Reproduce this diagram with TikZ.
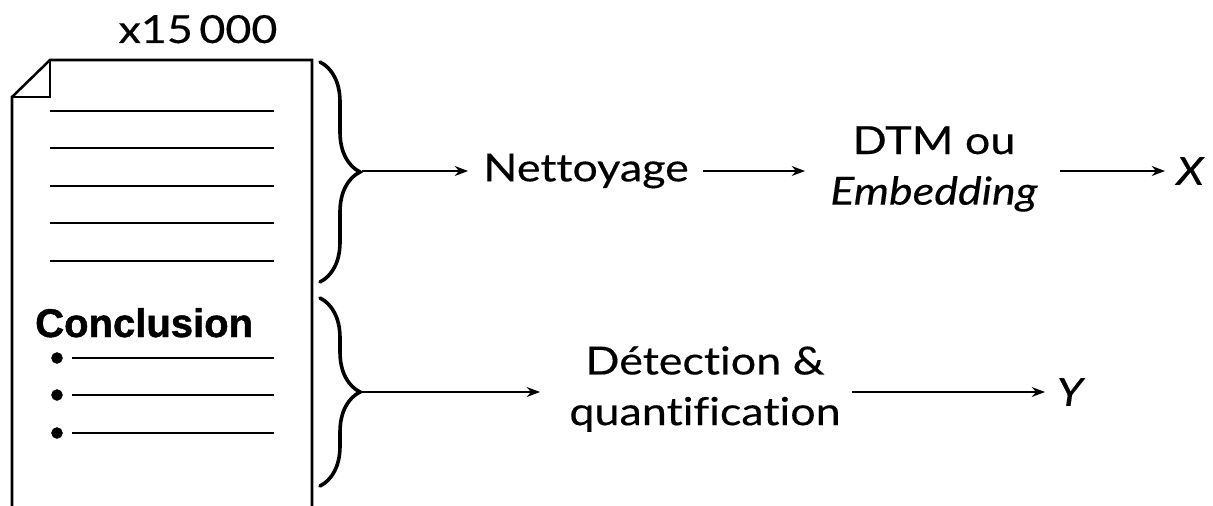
\documentclass[tikz,border=0pt]{standalone}
\usepackage{fontspec}
\setmainfont{Lato}[Ligatures=NoCommon, FakeStretch=1.16, FakeBold=0.35]
\newfontfamily\boldhead{Liberation Sans}[BoldFont={Liberation Sans Bold}, BoldFeatures={FakeBold=1.2}]
\usetikzlibrary{arrows.meta,decorations.pathreplacing}

\tikzset{
  pagebox/.style={line width=1.9pt, line join=miter},
  textline/.style={line width=0.9pt},
  curly/.style={line width=2.7pt, line cap=round,
    decorate, decoration={brace, amplitude=30pt, aspect=0.5}},
  flow/.style={line width=1.1pt, -{Stealth[length=10pt,width=7.5pt]}},
  label/.style={font=\fontsize{29}{38}\selectfont, inner sep=0pt, align=center},
  var/.style={label, font=\itshape\fontsize{29}{38}\selectfont},
  bullet/.style={circle, fill, draw, line width=0.6pt, inner sep=0pt, minimum size=8pt},
}

\begin{document}
\begin{tikzpicture}[x=0.75pt, y=-0.75pt]
  \useasboundingbox (0,0) rectangle (1213,506);

  % page with folded corner, open at the bottom
  \draw[pagebox] (12,506) -- (12,97) -- (50,60) -- (312,60) -- (312,506);
  \draw[pagebox] (50,60) -- (50,97) -- (12,97);

  % body text lines
  \foreach \yy in {111,148,186,223,261}
    \draw[textline] (50,\yy) -- (274,\yy);

  % conclusion section with bullets
  \node[anchor=base west, inner sep=0pt, font=\boldhead\bfseries\fontsize{30}{36}\selectfont]
    (concl) at (35,337) {Conclusion};
  \foreach \yy [count=\k] in {358,395,433} {
    \node[bullet] (dot\k) at (57,\yy) {};
    \draw[textline] (72,\yy) -- (274,\yy);
  }

  % copy count
  \node[label, anchor=base] (count) at (198,43) {x15\,000};

  % braces grouping the two parts of the page
  \draw[curly] (320,62) -- (320,282);
  \draw[curly] (320,298) -- (320,486);
  \coordinate (tip1) at (362,171);
  \coordinate (tip2) at (362,392);

  % upper pipeline
  \node[label] (clean) at (586,171) {Nettoyage};
  \node[label] (dtm) at (934,169) {DTM ou\\\textit{Embedding}};
  \node[var] (X) at (1190,171) {X};
  \coordinate (a1) at (468,171);
  \coordinate (b0) at (703,171);
  \coordinate (b1) at (805,171);
  \coordinate (c0) at (1060,171);
  \coordinate (c1) at (1165,171);
  \draw[flow] (tip1) -- (a1);
  \draw[flow] (b0) -- (b1);
  \draw[flow] (c0) -- (c1);

  % lower pipeline
  \node[label] (detect) at (705,389) {Détection \&\\quantification};
  \node[var] (Y) at (1070,392) {Y};
  \coordinate (d1) at (540,392);
  \coordinate (e0) at (852,392);
  \coordinate (e1) at (1045,392);
  \draw[flow] (tip2) -- (d1);
  \draw[flow] (e0) -- (e1);
\end{tikzpicture}
\end{document}
